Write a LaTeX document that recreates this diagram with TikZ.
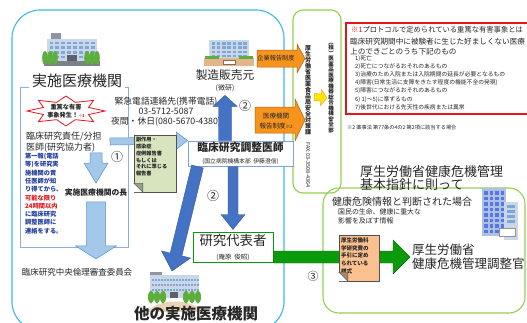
\documentclass[tikz,border=0pt]{standalone}
\usepackage{fontspec}
\setmainfont{Noto Sans CJK JP}
\usepackage{tikz}
\usetikzlibrary{arrows.meta,positioning,shapes.geometric,calc}
\definecolor{sky}{HTML}{3DB7E9}
\definecolor{steel}{HTML}{5B8FD0}
\definecolor{pale}{HTML}{A4C8EA}
\definecolor{royal}{HTML}{4472C4}
\definecolor{leaf}{HTML}{92D050}
\definecolor{forest}{HTML}{0A9A0A}
\definecolor{tangerine}{HTML}{F7941D}
\definecolor{rust}{HTML}{B45F06}
\definecolor{alarm}{HTML}{E8141B}
\definecolor{ink}{HTML}{262626}
\definecolor{navy}{HTML}{1F3C9A}
\definecolor{lime}{HTML}{D7E4BD}
\definecolor{peach}{HTML}{FAC08F}
\definecolor{lemon}{HTML}{FFE600}
\definecolor{wall}{HTML}{C9D7E6}
\definecolor{glass}{HTML}{7FA6D8}
\definecolor{tree}{HTML}{5DAE3C}
\definecolor{sand}{HTML}{E8D4B8}
\definecolor{brickwall}{HTML}{E3B58A}
\tikzset{
  lbl/.style={inner sep=0pt, align=center, text=ink},
  bigframe/.style={draw=sky, line width=1.1pt, rounded corners=28pt},
  grnframe/.style={draw=leaf, line width=1.1pt, rounded corners=#1},
  grnframe/.default=10pt,
  thinframe/.style={draw=steel!70, line width=0.7pt},
  redbox/.style={draw=alarm, line width=1.2pt},
  lightarrow/.style={fill=pale, draw=steel, line width=0.5pt},
  darkarrow/.style={fill=royal, draw=royal!75!black, line width=0.4pt},
  orangearrow/.style={fill=tangerine, draw=rust, line width=0.5pt},
  greenarrow/.style={fill=forest, draw=forest!70!black, line width=0.4pt},
  yellowarrow/.style={fill=lemon, draw=tangerine, line width=0.4pt},
  notebox/.style={rectangle, draw=ink!80, line width=0.4pt, inner sep=1.5pt, align=left, text=ink},
  notefold/.style={draw=ink!80, line width=0.4pt},
  personbox/.style={rectangle, fill=white, line width=1pt, align=center, inner sep=0pt, text=ink},
  circnum/.style={lbl, font=\fontsize{12}{12}\selectfont},
  tate/.style={lbl, font=\bfseries\fontsize{#1}{#1}\selectfont},
}
% block arrow: [style]{from}{to}{half shaft}{half head}{head length}
\newcommand{\blockarrow}[6][]{%
  \coordinate (ba-h) at ($(#3)!#6pt!(#2)$);
  \draw[#1] ($(#2)!#4pt!90:(#3)$) -- ($(ba-h)!#4pt!-90:(#2)$)
    -- ($(ba-h)!#5pt!-90:(#2)$) -- (#3)
    -- ($(ba-h)!#5pt!90:(#2)$) -- ($(ba-h)!#4pt!90:(#2)$)
    -- ($(#2)!#4pt!-90:(#3)$) -- cycle;}

\begin{document}
\begin{tikzpicture}[x=1pt, y=-1pt]
\useasboundingbox (0,0) rectangle (527,322);

% frames
\draw[bigframe] (12,10) rectangle (284,330);
\draw[grnframe] (293,10) rectangle (341,193);
\draw[grnframe=16pt] (323,188) rectangle (525,313);
\draw[thinframe] (20,87) rectangle (128,247);
\draw[redbox] (346,23) rectangle (535,114);

% hospital
\fill[wall!70!black] (51,33) rectangle (61,39);
\fill[wall] (47,39) rectangle (97,61);
\foreach \c in {0,...,7}
  \foreach \r in {0,...,3}
    \fill[glass] ({49.5+\c*5.9},{41.5+\r*4.7}) rectangle +(3.8,2.8);
\fill[wall!60!black] (44,61) rectangle (100,66);
\fill[wall!45!black] (67,55) rectangle (77,61);
\foreach \t in {45,50,55,87,92,97}
  \fill[tree] (\t,58) ellipse [x radius=2.8pt, y radius=7pt];

% maker building
\fill[wall] (209,40) rectangle (249,60);
\foreach \c in {0,...,6}
  \foreach \r in {0,...,3}
    \fill[glass] ({211.5+\c*5.3},{42+\r*4.3}) rectangle +(3.5,2.5);
\fill[brickwall] (204,58) rectangle (254,66);
\fill[tree] (205,55.5) rectangle (219,59);
\fill[tree] (239,55.5) rectangle (253,59);
\fill[white, draw=brickwall!60!black, line width=0.3pt] (223,60) rectangle (235,64);

% other hospital
\fill[wall!70!black] (150,272) rectangle (162,275);
\fill[wall] (150,275) rectangle (199,298);
\foreach \r in {0,1,2}
  \foreach \c in {0,...,15}
    \fill[glass] ({152+\c*3},{279+\r*5}) rectangle +(2,2);
\fill[wall!45!black] (170,292) rectangle (178,298);
\fill[sand] (146,312) .. controls (160,298) and (190,298) .. (204,312) -- cycle;
\foreach \t in {151,157,163,186,192,198}
  \fill[tree] (\t,297) ellipse [x radius=3pt, y radius=6.5pt];

% ministry building
\fill[wall!60!glass] (482,188) rectangle (506,236);
\foreach \c in {0,...,3}
  \foreach \r in {0,...,7}
    \fill[glass!70!blue] ({484+\c*5.5},{191+\r*5.5}) rectangle +(3.8,3.6);
\fill[wall] (504,202) rectangle (518,240);
\foreach \r in {0,...,3}
  \fill[glass] (507,{205+\r*5}) rectangle +(8,2.5);
\fill[white, draw=ink!50, line width=0.3pt] (499,228) rectangle (515,236);

% labels
\node[lbl, fill=white, inner xsep=3pt, font=\fontsize{15}{15}\selectfont] (jisshi) at (77,81) {実施医療機関};
\node[star, star points=8, star point ratio=1.6, draw=alarm, fill=white, line width=0.8pt,
      minimum size=30pt, xscale=2.6] (burst) at (66,111) {};
\node[lbl, font=\bfseries\fontsize{6.2}{7.5}\selectfont] (hassei) at (66,111)
  {重篤な有害\\事象発生！{\color{alarm}\fontsize{4}{4}\selectfont ※1}};
\node[lbl, font=\fontsize{8.8}{10}\selectfont] (kinkyu) at (166,112)
  {緊急電話連絡先(携帯電話)\\03-5712-5087\\夜間・休日(080-5670-4380)};
\node[lbl, anchor=west, align=left, font=\fontsize{9}{11}\selectfont] (sekinin) at (26,142.5)
  {臨床研究責任/分担\\医師(研究協力者)};
\node[lbl, anchor=north west, align=left, text=navy, font=\bfseries\fontsize{6.2}{8.3}\selectfont] (renraku) at (25,153)
  {第一報(電話\\等)を研究実\\施機関の責\\任医師が知\\り得てから、\\{\color{alarm}可能な限り}\\{\color{alarm}24時間以内}\\に臨床研究\\調整医師に\\連絡をする。};
\node[lbl, font=\bfseries\fontsize{7.8}{8}\selectfont] (cho) at (96,193) {実施医療機関の長};
\node[lbl, font=\fontsize{8.5}{9}\selectfont] (rinri) at (77,272) {臨床研究中央倫理審査委員会};
\node[lbl, font=\fontsize{11.7}{12}\selectfont] (seizo) at (225,75) {製造販売元};
\node[lbl, font=\fontsize{7}{7}\selectfont] (bikenn) at (225,88.5) {(微研)};
\node[personbox, draw=steel!80, minimum width=105, minimum height=25,
      font=\bfseries\fontsize{10.8}{12}\selectfont] (chosei) at (240.5,153.5)
  {臨床研究調整医師\\{\mdseries\fontsize{5.8}{6}\selectfont (国立病院機構本部\ \ 伊藤澄信)}};
\node[personbox, draw=forest, minimum width=80, minimum height=30,
      font=\fontsize{13.4}{14}\selectfont] (daihyo) at (233,247)
  {研究代表者\\{\fontsize{6.5}{7}\selectfont (庵原\ \ 俊昭)}};
\node[lbl, font=\bfseries\fontsize{15.5}{16}\selectfont] (tano) at (196,313.5) {他の実施医療機関};
\node[circnum] (n1) at (117,157) {①};
\node[circnum] (n2a) at (245,106) {②};
\node[circnum] (n2b) at (213,196) {②};
\node[circnum, font=\fontsize{11}{11}\selectfont] (n3) at (313,276) {③};

% vertical offices
\node[tate=6] (anzen) at (308,90)
  {厚\\生\\労\\働\\省\\医\\薬\\食\\品\\局\\安\\全\\対\\策\\課};
\node[lbl, rotate=-90, anchor=west, font=\fontsize{5.5}{5.5}\selectfont] (fax) at (308,142) {FAX:03-3508-4364};
\node[tate=5.5] (kiko) at (331,88)
  {︵\\独\\︶\\医\\薬\\品\\医\\療\\機\\器\\総\\合\\機\\構\\安\\全\\部};

% footnotes
\node[lbl, anchor=west, font=\fontsize{7.3}{8}\selectfont] (sae1) at (351,30)
  {{\color{alarm}※1}プロトコルで定められている重篤な有害事象とは};
\node[lbl, anchor=west, align=left, font=\fontsize{7.6}{10}\selectfont] (sae2) at (350,46.5)
  {臨床研究期間中に被験者に生じた好ましくない医療\\上のできごとのうち下記のもの};
\node[lbl, anchor=west, align=left, font=\fontsize{5.8}{8.1}\selectfont] (salist) at (355,83)
  {1)死亡\\2)死亡につながるおそれのあるもの\\3)治療のため入院または入院期間の延長が必要となるもの\\4)障害(日常生活に支障をきたす程度の機能不全の発現)\\5)障害につながるおそれのあるもの\\6) 1)～5)に準ずるもの\\7)後世代における先天性の疾病または異常};
\node[lbl, anchor=west, font=\fontsize{5.2}{6}\selectfont] (yakuji) at (347,128)
  {※2 薬事法 第77条の4の2 第2項に該当する場合};

% right side
\node[lbl, anchor=west, align=left, font=\fontsize{13}{12}\selectfont] (kijun) at (360,178)
  {厚生労働省健康危機管理\\基本指針に則って};
\node[lbl, anchor=west, font=\fontsize{10}{10}\selectfont] (kiken) at (332,202) {健康危険情報と判断された場合};
\node[lbl, anchor=north west, align=left, font=\fontsize{6.9}{9.5}\selectfont] (kokumin) at (338,208)
  {国民の生命、健康に重大な\\影響を及ぼす情報};
\node[lbl, anchor=west, align=left, font=\fontsize{12.5}{14}\selectfont] (kanri) at (412,257)
  {厚生労働省\\健康危機管理調整官};

% arrows
\coordinate (ra) at (110,141.5);
\blockarrow[lightarrow]{ra}{chosei.north west}{3.5}{8.5}{11}
\coordinate (d1a) at (cho.north |- sekinin.south);
\coordinate (d1b) at ($(cho.north)+(0,-6)$);
\blockarrow[lightarrow]{d1a}{d1b}{6}{12}{20}
\coordinate (d2a) at ($(cho.south)+(0,5)$);
\coordinate (d2b) at ($(cho.south |- rinri.north)+(0,-9)$);
\blockarrow[lightarrow]{d2a}{d2b}{9.5}{20.5}{13}
\coordinate (ua) at (bikenn.south |- chosei.north);
\coordinate (ub) at ($(bikenn.south)+(0,3)$);
\blockarrow[darkarrow]{ua}{ub}{6.5}{12}{11}
\coordinate (da) at (daihyo.north |- chosei.south);
\coordinate (db) at ($(daihyo.north)+(0,-2)$);
\blockarrow[darkarrow]{da}{db}{5}{12}{15}
\coordinate (ga) at ($(chosei.south west)+(10,0)$);
\coordinate (gb) at (172,271);
\blockarrow[darkarrow]{ga}{gb}{6}{15}{17}
\coordinate (ka) at (257,58.5);
\coordinate (kb) at (305,58.5);
\blockarrow[orangearrow]{ka}{kb}{8.5}{14.5}{8}
\coordinate (ia) at (255,120);
\coordinate (ib) at (305,120);
\blockarrow[orangearrow]{ia}{ib}{13}{21}{10}
\coordinate (ya) at ($(anzen.east)+(3,7)$);
\coordinate (yb) at ($(kiko.west)+(-1,10)$);
\blockarrow[yellowarrow]{ya}{yb}{3.5}{8}{6}
\coordinate (fa) at ($(daihyo.east)+(0,10)$);
\coordinate (fb) at ($(kanri.west)+(-2,0)$);
\blockarrow[greenarrow]{fa}{fb}{6}{17}{17}
\node[lbl, font=\fontsize{6.2}{7}\selectfont] (kigyo) at (276,58.5) {企業報告制度};
\node[lbl, font=\fontsize{6.5}{10}\selectfont] (iryo) at (276,121)
  {医療機関\\報告制度{\fontsize{4.5}{5}\selectfont ※2}};

% report notes
\node[notebox, fill=lime, minimum width=42, minimum height=57, font=\bfseries\fontsize{5.2}{6.7}\selectfont] (fukusayo) at (155,163.5)
  {\parbox[c][52pt][t]{38pt}{副作用・\\感染症\\症例報告書\\\ \ もしくは\\それに準じる\\報告書}};
\fill[white] (fukusayo.south west) -- ++(9,0) -- ++(-9,-9) -- cycle;
\draw[notefold, fill=lime!70!black] ($(fukusayo.south west)+(9,0)$) -- ($(fukusayo.south west)+(0,-9)$)
  -- ($(fukusayo.south west)+(9,-9)$) -- cycle;
\node[notebox, fill=peach, minimum width=40, minimum height=46, font=\bfseries\fontsize{5.5}{7.8}\selectfont] (yoshiki) at (359,258)
  {\parbox[c][41pt][t]{36pt}{厚生労働科\\学研究費の\\手引に定め\\られている\\様式}};
\fill[white] (yoshiki.south west) -- ++(9,0) -- ++(-9,-9) -- cycle;
\draw[notefold, fill=peach!70!black] ($(yoshiki.south west)+(9,0)$) -- ($(yoshiki.south west)+(0,-9)$)
  -- ($(yoshiki.south west)+(9,-9)$) -- cycle;
\end{tikzpicture}
\end{document}
